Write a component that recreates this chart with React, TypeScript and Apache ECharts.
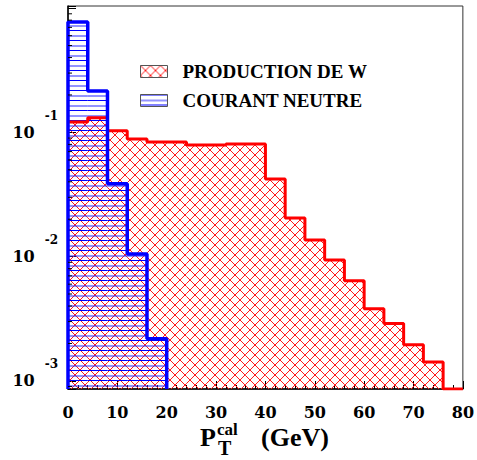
import { useEffect, useRef } from 'react';
import * as echarts from 'echarts';

// ---- data ----
const binWidth = 4; // GeV
const seriesNames = ['PRODUCTION DE W', 'COURANT NEUTRE'];
const productionW = [
  0.121, 0.131, 0.103, 0.0885, 0.0837, 0.0837, 0.0792, 0.0792, 0.0807, 0.0807,
  0.0422, 0.0205, 0.0136, 0.0094, 0.0064, 0.0038, 0.0029, 0.00195, 0.00142,
];
const courantNeutre = [0.773, 0.215, 0.0385, 0.0105, 0.00218];
const xMin = 0;
const xMax = 80;
const xInterval = 10;
const yMin = 0.00086;
const yMax = 1.04;
const yLabelExponents = [-3, -2, -1];
const minorTickValues: number[] = [];
[-4, -3, -2, -1].forEach((e) => {
  for (let m = 2; m <= 9; m++) {
    const v = m * Math.pow(10, e);
    if (v > yMin && v < yMax) minorTickValues.push(v);
  }
});

const FONT = 'Liberation Serif';
const FONT_TICK = 'DejaVu Serif';

function makeCrossHatch() {
  const c = document.createElement('canvas');
  c.width = 10;
  c.height = 10;
  const g = c.getContext('2d')!;
  g.strokeStyle = '#ff1a1a';
  g.lineWidth = 1;
  g.beginPath();
  g.moveTo(-1, -1);
  g.lineTo(11, 11);
  g.moveTo(11, -1);
  g.lineTo(-1, 11);
  g.stroke();
  return c;
}

function makeHLines() {
  const c = document.createElement('canvas');
  c.width = 10;
  c.height = 10;
  const g = c.getContext('2d')!;
  g.fillStyle = '#0000ff';
  g.fillRect(0, 0, 10, 1);
  g.fillStyle = 'rgba(40,40,255,0.5)';
  g.fillRect(0, 5, 10, 2);
  return c;
}

export default function App() {
  const ref = useRef<HTMLDivElement>(null);

  useEffect(() => {
    if (!ref.current) return;
    const chart = echarts.init(ref.current, null, { renderer: 'svg' });

    const redPattern: any = { image: makeCrossHatch(), repeat: 'repeat', imageWidth: 10, imageHeight: 10 };
    const bluePattern: any = { image: makeHLines(), repeat: 'repeat', imageWidth: 10, imageHeight: 10 };

    const toBins = (vals: number[]) => vals.map((v, i) => [i * binWidth, (i + 1) * binWidth, v]);
    const redOutline: number[][] = productionW.map((v, i) => [i * binWidth, v]);
    redOutline.push([productionW.length * binWidth, yMin]);
    redOutline.push([xMax, yMin]);
    const blueOutline: number[][] = [[0, yMin]];
    courantNeutre.forEach((v, i) => blueOutline.push([i * binWidth, v]));
    blueOutline.push([courantNeutre.length * binWidth, yMin]);

    const histRender = (pattern: any) => (_params: any, api: any) => {
      const x0 = api.value(0);
      const x1 = api.value(1);
      const v = api.value(2);
      const p0 = api.coord([x0, v]);
      const p1 = api.coord([x1, yMin]);
      return {
        type: 'rect',
        shape: { x: p0[0], y: p0[1], width: p1[0] - p0[0], height: p1[1] - p0[1] },
        style: { fill: pattern },
      };
    };

    const option: any = {
      animation: false,
      backgroundColor: '#ffffff',
      grid: {
        left: 68,
        right: 12,
        top: 6,
        bottom: 71,
        show: true,
        borderColor: '#333',
        borderWidth: 1,
        backgroundColor: 'transparent',
      },
      legend: {
        orient: 'vertical',
        left: 135,
        top: 57,
        itemWidth: 27,
        itemHeight: 12,
        itemGap: 10,
        icon: 'rect',
        selectedMode: false,
        data: [
          { name: seriesNames[0], itemStyle: { color: redPattern, borderColor: '#555', borderWidth: 1 } },
          { name: seriesNames[1], itemStyle: { color: bluePattern, borderColor: '#555', borderWidth: 1 } },
        ],
        textStyle: {
          fontFamily: FONT,
          fontWeight: 'bold',
          fontSize: 19,
          color: '#000',
          lineHeight: 14,
          padding: [0, 0, 0, 10],
        },
      },
      xAxis: {
        type: 'value',
        min: xMin,
        max: xMax,
        interval: xInterval,
        axisLine: { show: true, lineStyle: { color: '#000', width: 1.5 } },
        axisTick: { show: true, inside: true, length: 8, lineStyle: { color: '#000', width: 1 } },
        minorTick: { show: true, splitNumber: 5, length: 4, lineStyle: { color: '#000', width: 1 } },
        splitLine: { show: false },
        axisLabel: {
          margin: 15,
          fontFamily: FONT_TICK,
          fontWeight: 'bold',
          fontSize: 16,
          color: '#000',
        },
      },
      yAxis: {
        type: 'log',
        logBase: 10,
        min: yMin,
        max: yMax,
        axisLine: { show: true, lineStyle: { color: '#000', width: 1.5 } },
        axisTick: { show: true, inside: true, length: 8, lineStyle: { color: '#000', width: 1 } },
        minorTick: { show: false },
        splitLine: { show: false },
        axisLabel: {
          margin: 10,
          fontFamily: FONT_TICK,
          formatter: (value: number) => {
            const e = Math.log10(value);
            const r = Math.round(e);
            if (Math.abs(e - r) > 1e-6 || yLabelExponents.indexOf(r) < 0) return '';
            return `{b|10}{s|${r}}`;
          },
          rich: {
            b: {
              fontFamily: FONT_TICK,
              fontWeight: 'bold',
              fontSize: 16,
              color: '#000',
              lineHeight: 45,
              verticalAlign: 'middle',
            },
            s: {
              fontFamily: FONT_TICK,
              fontWeight: 'bold',
              fontSize: 12,
              color: '#000',
              lineHeight: 12,
              verticalAlign: 'top',
              padding: [0, 0, 0, 10],
            },
          },
        },
      },
      series: [
        {
          name: seriesNames[0],
          type: 'custom',
          renderItem: histRender(redPattern),
          itemStyle: { color: redPattern },
          encode: { x: [0, 1], y: 2 },
          data: toBins(productionW),
          z: 1,
          silent: true,
        },
        {
          name: seriesNames[1],
          type: 'custom',
          renderItem: histRender(bluePattern),
          itemStyle: { color: bluePattern },
          encode: { x: [0, 1], y: 2 },
          data: toBins(courantNeutre),
          z: 2,
          silent: true,
        },
        {
          name: 'redOutline',
          type: 'line',
          step: 'end',
          symbol: 'none',
          data: redOutline,
          lineStyle: { color: '#ff0000', width: 3 },
          z: 3,
          silent: true,
        },
        {
          name: 'blueOutline',
          type: 'line',
          step: 'end',
          symbol: 'none',
          data: blueOutline,
          lineStyle: { color: '#0000ff', width: 3.5 },
          z: 4,
          silent: true,
        },
        {
          name: 'minorTicks',
          type: 'custom',
          encode: { x: 0, y: 1 },
          data: minorTickValues.map((v) => [xMin, v]),
          renderItem: (_p: any, api: any) => {
            const p = api.coord([xMin, api.value(1)]);
            return {
              type: 'line',
              shape: { x1: p[0], y1: p[1], x2: p[0] + 4, y2: p[1] },
              style: { stroke: '#000', lineWidth: 1 },
            };
          },
          z: 5,
          silent: true,
        },
      ],
      graphic: [
        {
          type: 'text',
          x: 200,
          y: 437,
          style: {
            text: 'P',
            fontFamily: FONT,
            fontWeight: 'bold',
            fontSize: 26,
            fill: '#000',
            textAlign: 'left',
            textVerticalAlign: 'middle',
          },
        },
        {
          type: 'text',
          x: 217,
          y: 429,
          style: {
            text: 'cal',
            fontFamily: FONT,
            fontWeight: 'bold',
            fontSize: 17,
            fill: '#000',
            textAlign: 'left',
            textVerticalAlign: 'middle',
          },
        },
        {
          type: 'text',
          x: 218,
          y: 448,
          style: {
            text: 'T',
            fontFamily: FONT,
            fontWeight: 'bold',
            fontSize: 20,
            fill: '#000',
            textAlign: 'left',
            textVerticalAlign: 'middle',
          },
        },
        {
          type: 'text',
          x: 261,
          y: 437,
          style: {
            text: '(GeV)',
            fontFamily: FONT,
            fontWeight: 'bold',
            fontSize: 26,
            fill: '#000',
            textAlign: 'left',
            textVerticalAlign: 'middle',
          },
        },
      ],
    };

    chart.setOption(option);
    return () => {
      chart.dispose();
    };
  }, []);

  return (
    <div
      ref={ref}
      style={{ position: 'fixed', left: 0, top: 0, width: 477, height: 460, background: '#fff' }}
    />
  );
}
